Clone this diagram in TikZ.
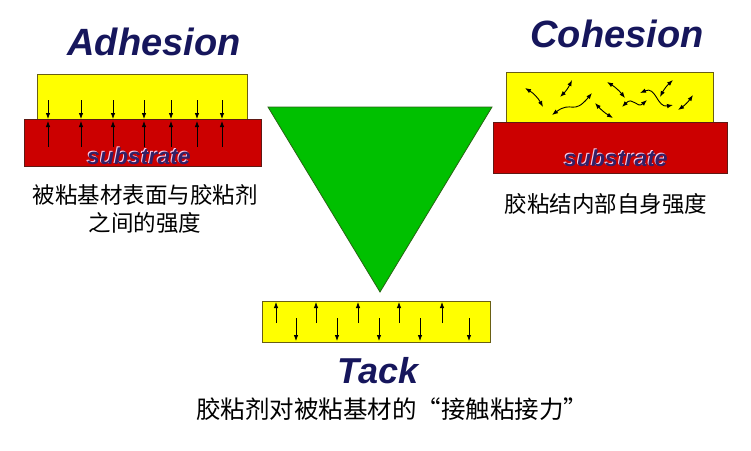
\documentclass[tikz,border=0pt]{standalone}
\usepackage{fontspec}
\setmainfont{Liberation Sans}
\newfontfamily\cjk{Noto Sans CJK SC}
\usetikzlibrary{arrows.meta}
\definecolor{glueyellow}{RGB}{255,255,0}
\definecolor{gluerim}{RGB}{105,95,20}
\definecolor{subred}{RGB}{204,0,0}
\definecolor{subrim}{RGB}{95,25,20}
\definecolor{titleblue}{RGB}{22,22,92}
\definecolor{subtext}{RGB}{52,32,102}
\definecolor{conegreen}{RGB}{0,192,0}
\definecolor{conerim}{RGB}{40,100,20}
% text with a soft halo behind it
\newcommand{\shaded}[3]{\rlap{\hspace{#2}\raisebox{-#2}{\color{#3}#1}}#1}
\tikzset{%
    glue/.style={fill=glueyellow, draw=gluerim, line width=0.8pt},
    base/.style={fill=subred, draw=subrim, line width=0.8pt},
    cone/.style={fill=conegreen, draw=conerim, line width=0.8pt},
    title/.style={anchor=base, inner sep=0pt, text=titleblue,
        font=\fontsize{38}{38}\selectfont\bfseries\itshape},
    subname/.style={anchor=base, inner sep=0pt, text=subtext,
        font=\fontsize{23}{23}\selectfont\bfseries\itshape},
    caption/.style={align=center, inner sep=0pt,
        font=\cjk\fontsize{22.5}{28}\selectfont},
    force/.style={->, line width=0.8pt},
    jiggle/.style={<->, line width=0.9pt},
    >={Latex[length=6pt,width=4.5pt]}
}

\begin{document}
\begin{tikzpicture}[x=1pt, y=-1pt]
\useasboundingbox (0,0) rectangle (751,450);

% adhesion
\node[title] (adh) at (154,55) {Adhesion};
\draw[glue] (37,74) rectangle (247,119);
\draw[base] (24,119) rectangle (261,166);
\foreach \x in {48,81,113,144,171,197,222} {
    \draw[force] (\x,100) -- (\x,119);
    \draw[force] (\x,147) -- (\x,121);
}
\node[subname] (adh-sub) at (139,164) {\shaded{substrate}{-1pt}{white!80!magenta}};
\node[caption] (adh-txt) at (145,209) {被粘基材表面与胶粘剂\\之间的强度};

% cohesion
\node[title] (coh) at (617,47) {Cohesion};
\draw[glue] (506,72) rectangle (713,122);
\draw[base] (493,122) rectangle (727,173);
\draw[jiggle] (525,88) to[bend left=15] (543,107);
\draw[jiggle] (560,97) to[bend right=10] (572,80);
\draw[jiggle] (552,115) .. controls (572,100) and (573,116) .. (592,93);
\draw[jiggle] (607,82) to[bend left=10] (625,98);
\draw[jiggle] (595,103) to[bend right=8] (613,118);
\draw[jiggle] (622,107) .. controls (633,96) and (637,109) .. (647,100);
\draw[jiggle] (640,93) .. controls (656,86) and (657,108) .. (673,105);
\draw[jiggle] (660,97) to[bend left=10] (673,80);
\draw[jiggle] (678,110) to[bend right=10] (693,95);
\node[subname] (coh-sub) at (616,166) {\shaded{substrate}{-1pt}{white!80!magenta}};
\node[caption] (coh-txt) at (606,204) {胶粘结内部自身强度};

% tack
\draw[cone] (268,107) -- (492,107) -- (380,292) -- cycle;
\draw[glue] (262,301) rectangle (490,342);
\foreach \x in {276,316,358,399,442}
    \draw[force] (\x,323) -- (\x,302);
\foreach \x in {296,337,379,420,469}
    \draw[force] (\x,318) -- (\x,341);
\node[title, font=\fontsize{36}{36}\selectfont\bfseries\itshape] (tack) at (378,383) {Tack};
\node[caption, font=\cjk\fontsize{24.5}{28}\selectfont] (tack-txt) at (392,409)
    {胶粘剂对被粘基材的\makebox[1em][r]{“}接触粘接力\makebox[1em][c]{”}};
\end{tikzpicture}
\end{document}
